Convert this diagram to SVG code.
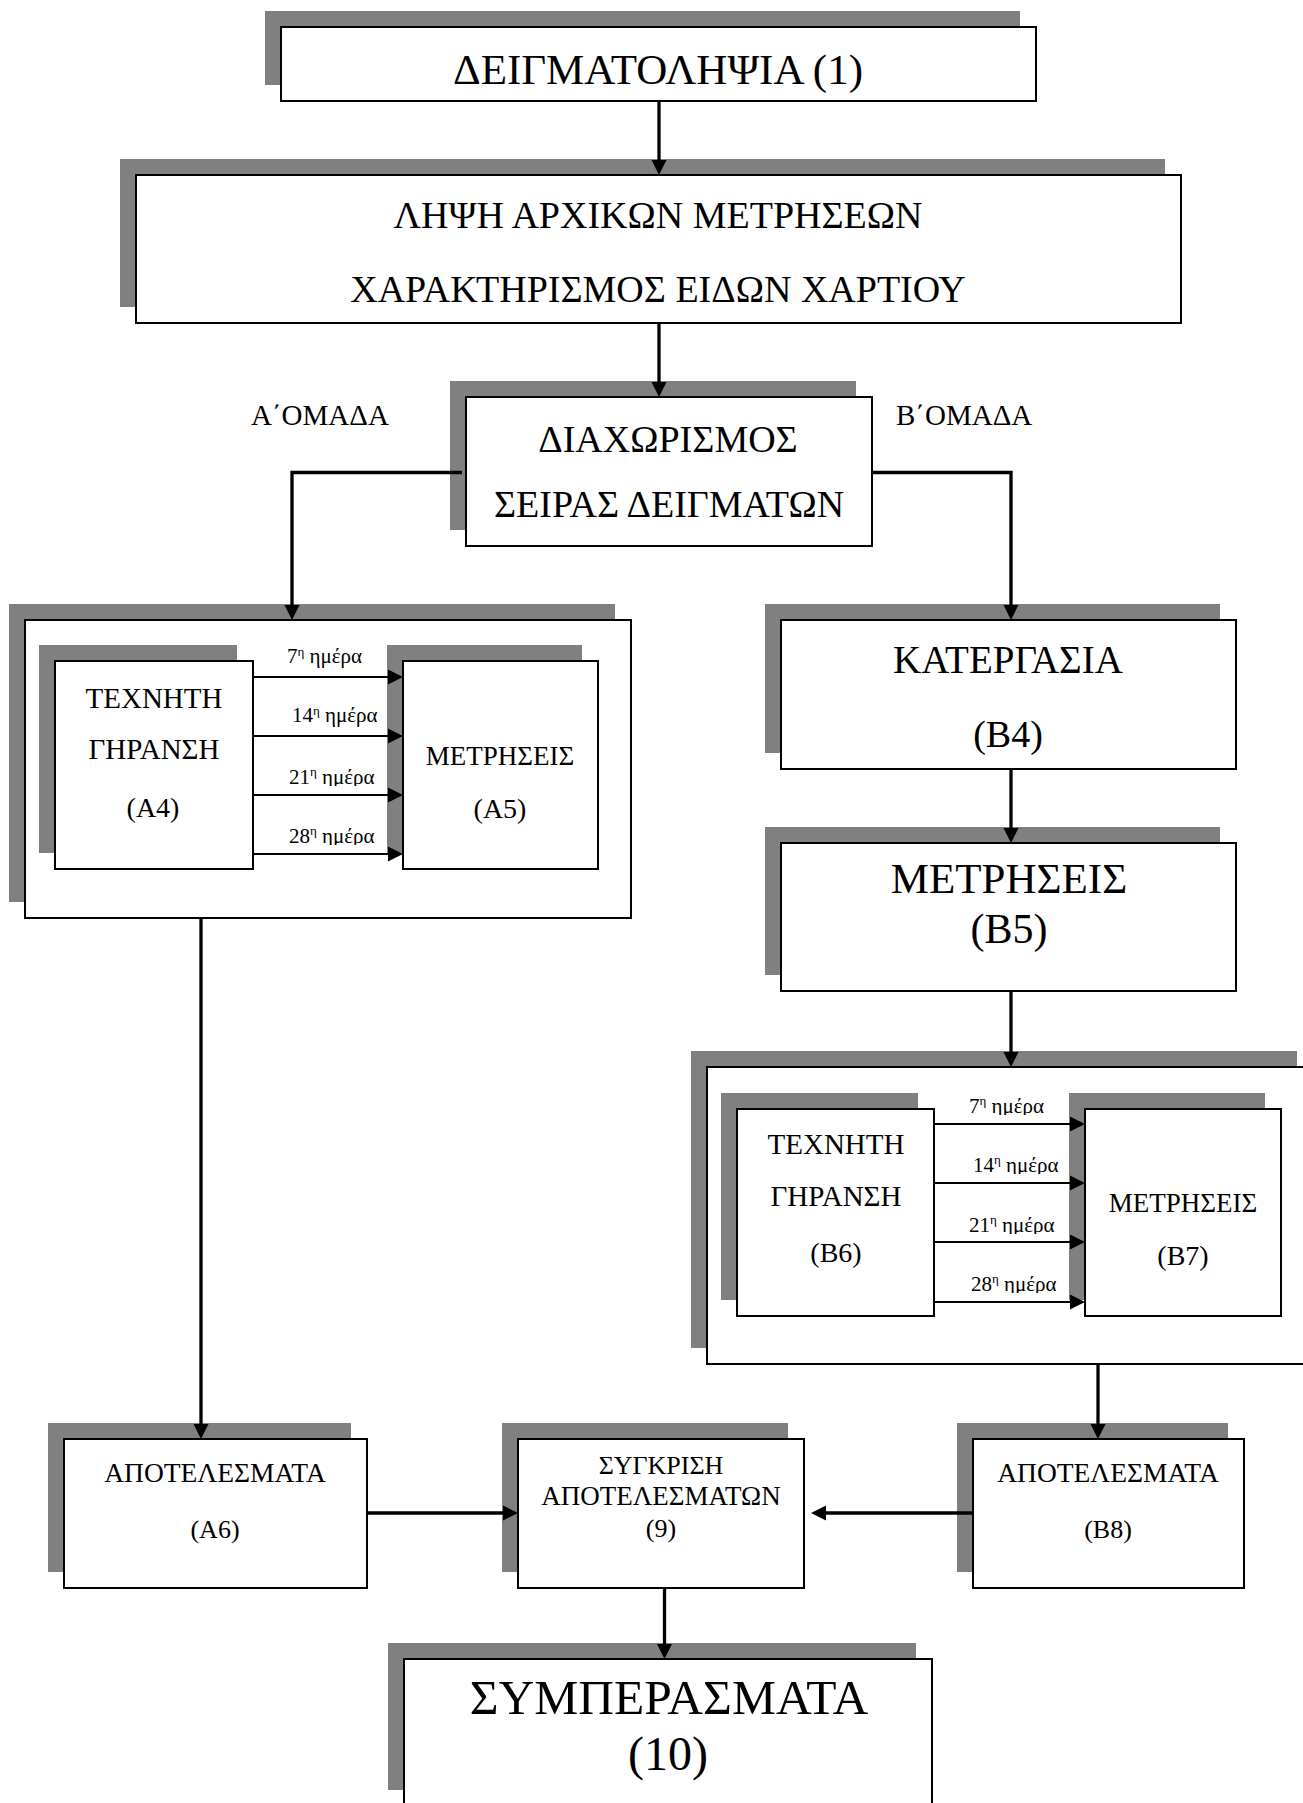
<svg xmlns="http://www.w3.org/2000/svg" width="1303" height="1803" viewBox="0 0 1303 1803">
  <style>
    .shadow { fill: #808080; }
    .box { fill: #ffffff; stroke: #000000; stroke-width: 2; }
    text { font-family: "Liberation Serif", "Times New Roman", serif; fill: #000000; }
    .c { text-anchor: middle; }
    .day { font-size: 21px; }
    .sup { font-size: 13px; }
    .wire { fill: none; stroke: #000000; stroke-width: 3.3; }
    .thin { fill: none; stroke: #000000; stroke-width: 2; }
  </style>
  <defs>
    <marker id="head" markerUnits="userSpaceOnUse" viewBox="0 -8 16 16" refX="0" refY="0" markerWidth="16" markerHeight="16" orient="auto" overflow="visible">
      <path d="M0,-7.5 L15,0 L0,7.5 Z" fill="#000000"/>
    </marker>
    <!-- day labels whose descenders are cut off at the text frame -->
    <clipPath id="clipA21"><rect x="250" y="760" width="150" height="26"/></clipPath>
    <clipPath id="clipA28"><rect x="250" y="820" width="150" height="25"/></clipPath>
    <clipPath id="clipB7"><rect x="940" y="1090" width="140" height="25"/></clipPath>
    <clipPath id="clipB14"><rect x="940" y="1150" width="140" height="24"/></clipPath>
    <clipPath id="clipB21"><rect x="940" y="1210" width="140" height="24"/></clipPath>
    <clipPath id="clipB28"><rect x="940" y="1270" width="140" height="23"/></clipPath>
  </defs>

  <rect x="0" y="0" width="1303" height="1803" fill="#ffffff"/>

  <!-- nodes -->
  <g id="n-sampling">
    <rect class="shadow" x="265" y="11" width="755" height="74"/>
    <rect class="box" x="281" y="27" width="755" height="74"/>
    <text class="c" x="658" y="84" font-size="43">ΔΕΙΓΜΑΤΟΛΗΨΙΑ (1)</text>
  </g>

  <g id="n-initial">
    <rect class="shadow" x="120" y="159" width="1045" height="148"/>
    <rect class="box" x="136" y="175" width="1045" height="148"/>
    <text class="c" x="658" y="228" font-size="38">ΛΗΨΗ ΑΡΧΙΚΩΝ ΜΕΤΡΗΣΕΩΝ</text>
    <text class="c" x="658" y="302" font-size="38">ΧΑΡΑΚΤΗΡΙΣΜΟΣ ΕΙΔΩΝ ΧΑΡΤΙΟΥ</text>
  </g>

  <g id="n-split">
    <rect class="shadow" x="450" y="381" width="406" height="149"/>
    <rect class="box" x="466" y="397" width="406" height="149"/>
    <text class="c" x="668" y="452" font-size="38">ΔΙΑΧΩΡΙΣΜΟΣ</text>
    <text class="c" x="669" y="517" font-size="38">ΣΕΙΡΑΣ ΔΕΙΓΜΑΤΩΝ</text>
  </g>

  <g id="group-labels">
    <text x="251" y="425" font-size="29">Α΄ΟΜΑΔΑ</text>
    <text x="896" y="425" font-size="29">Β΄ΟΜΑΔΑ</text>
  </g>

  <g id="n-groupA">
    <rect class="shadow" x="9" y="604" width="606" height="298"/>
    <rect class="box" x="25" y="620" width="606" height="298"/>
  </g>
  <g id="n-A4">
    <rect class="shadow" x="39" y="645" width="198" height="208"/>
    <rect class="box" x="55" y="661" width="198" height="208"/>
    <text class="c" x="154" y="708" font-size="29">ΤΕΧΝΗΤΗ</text>
    <text class="c" x="154" y="759" font-size="29">ΓΗΡΑΝΣΗ</text>
    <text class="c" x="153" y="817" font-size="28">(A4)</text>
  </g>
  <g id="n-A5">
    <rect class="shadow" x="387" y="645" width="195" height="208"/>
    <rect class="box" x="403" y="661" width="195" height="208"/>
    <text class="c" x="500" y="765" font-size="27">ΜΕΤΡΗΣΕΙΣ</text>
    <text class="c" x="500" y="818" font-size="28">(A5)</text>
  </g>

  <g id="n-B4">
    <rect class="shadow" x="765" y="604" width="455" height="149"/>
    <rect class="box" x="781" y="620" width="455" height="149"/>
    <text class="c" x="1008" y="673" font-size="39">ΚΑΤΕΡΓΑΣΙΑ</text>
    <text class="c" x="1008" y="747" font-size="38">(B4)</text>
  </g>

  <g id="n-B5">
    <rect class="shadow" x="765" y="827" width="455" height="148"/>
    <rect class="box" x="781" y="843" width="455" height="148"/>
    <text class="c" x="1009" y="893" font-size="43">ΜΕΤΡΗΣΕΙΣ</text>
    <text class="c" x="1009" y="943" font-size="42">(B5)</text>
  </g>

  <g id="n-groupB">
    <rect class="shadow" x="691" y="1051" width="606" height="297"/>
    <rect class="box" x="707" y="1067" width="606" height="297"/>
  </g>
  <g id="n-B6">
    <rect class="shadow" x="721" y="1093" width="197" height="207"/>
    <rect class="box" x="737" y="1109" width="197" height="207"/>
    <text class="c" x="836" y="1154" font-size="29">ΤΕΧΝΗΤΗ</text>
    <text class="c" x="836" y="1206" font-size="29">ΓΗΡΑΝΣΗ</text>
    <text class="c" x="836" y="1262" font-size="28">(B6)</text>
  </g>
  <g id="n-B7">
    <rect class="shadow" x="1069" y="1093" width="196" height="207"/>
    <rect class="box" x="1085" y="1109" width="196" height="207"/>
    <text class="c" x="1183" y="1212" font-size="27">ΜΕΤΡΗΣΕΙΣ</text>
    <text class="c" x="1183" y="1265" font-size="28">(B7)</text>
  </g>

  <g id="n-A6">
    <rect class="shadow" x="48" y="1423" width="303" height="149"/>
    <rect class="box" x="64" y="1439" width="303" height="149"/>
    <text class="c" x="215" y="1482" font-size="27.5">ΑΠΟΤΕΛΕΣΜΑΤΑ</text>
    <text class="c" x="215" y="1538" font-size="26">(A6)</text>
  </g>

  <g id="n-compare">
    <rect class="shadow" x="502" y="1423" width="286" height="149"/>
    <rect class="box" x="518" y="1439" width="286" height="149"/>
    <text class="c" x="661" y="1474" font-size="26">ΣΥΓΚΡΙΣΗ</text>
    <text class="c" x="661" y="1505" font-size="27">ΑΠΟΤΕΛΕΣΜΑΤΩΝ</text>
    <text class="c" x="661" y="1537" font-size="26">(9)</text>
  </g>

  <g id="n-B8">
    <rect class="shadow" x="957" y="1423" width="271" height="149"/>
    <rect class="box" x="973" y="1439" width="271" height="149"/>
    <text class="c" x="1108" y="1482" font-size="27.5">ΑΠΟΤΕΛΕΣΜΑΤΑ</text>
    <text class="c" x="1108" y="1538" font-size="26">(B8)</text>
  </g>

  <g id="n-conclusions">
    <rect class="shadow" x="388" y="1643" width="528" height="147"/>
    <rect class="box" x="404" y="1659" width="528" height="147"/>
    <text class="c" x="669" y="1714" font-size="49.5">ΣΥΜΠΕΡΑΣΜΑΤΑ</text>
    <text class="c" x="668" y="1770" font-size="48">(10)</text>
  </g>

  <!-- connectors -->
  <g id="connectors">
    <path class="wire" d="M659,101 V160" marker-end="url(#head)"/>
    <path class="wire" d="M659,323 V382" marker-end="url(#head)"/>
    <path class="wire" d="M462,472.5 H292 V605" marker-end="url(#head)"/>
    <path class="wire" d="M872,472.5 H1011 V605" marker-end="url(#head)"/>
    <path class="wire" d="M1011,769 V828" marker-end="url(#head)"/>
    <path class="wire" d="M1011,991 V1052" marker-end="url(#head)"/>
    <path class="wire" d="M201,918 V1424" marker-end="url(#head)"/>
    <path class="wire" d="M1098,1364 V1424" marker-end="url(#head)"/>
    <path class="wire" d="M367,1513 H503" marker-end="url(#head)"/>
    <path class="wire" d="M973,1513 H826" marker-end="url(#head)"/>
    <path class="wire" d="M664.5,1588 V1644" marker-end="url(#head)"/>

    <!-- ageing intervals, group A -->
    <path class="thin" d="M253,677 H388" marker-end="url(#head)"/>
    <path class="thin" d="M253,736 H388" marker-end="url(#head)"/>
    <path class="thin" d="M253,795 H388" marker-end="url(#head)"/>
    <path class="thin" d="M253,854 H388" marker-end="url(#head)"/>
    <text class="day" x="287" y="663">7<tspan class="sup" dy="-7">η</tspan><tspan dy="7"> ημέρα</tspan></text>
    <text class="day" x="292" y="722">14<tspan class="sup" dy="-7">η</tspan><tspan dy="7"> ημέρα</tspan></text>
    <text class="day" x="289" y="784" clip-path="url(#clipA21)">21<tspan class="sup" dy="-8">η</tspan><tspan dy="8"> ημέρα</tspan></text>
    <text class="day" x="289" y="843" clip-path="url(#clipA28)">28<tspan class="sup" dy="-8">η</tspan><tspan dy="8"> ημέρα</tspan></text>

    <!-- ageing intervals, group B -->
    <path class="thin" d="M934,1124 H1070" marker-end="url(#head)"/>
    <path class="thin" d="M934,1183 H1070" marker-end="url(#head)"/>
    <path class="thin" d="M934,1242 H1070" marker-end="url(#head)"/>
    <path class="thin" d="M934,1302 H1070" marker-end="url(#head)"/>
    <text class="day" x="969" y="1113" clip-path="url(#clipB7)">7<tspan class="sup" dy="-8">η</tspan><tspan dy="8"> ημέρα</tspan></text>
    <text class="day" x="973" y="1172" clip-path="url(#clipB14)">14<tspan class="sup" dy="-8">η</tspan><tspan dy="8"> ημέρα</tspan></text>
    <text class="day" x="969" y="1232" clip-path="url(#clipB21)">21<tspan class="sup" dy="-8">η</tspan><tspan dy="8"> ημέρα</tspan></text>
    <text class="day" x="971" y="1291" clip-path="url(#clipB28)">28<tspan class="sup" dy="-8">η</tspan><tspan dy="8"> ημέρα</tspan></text>
  </g>
</svg>
